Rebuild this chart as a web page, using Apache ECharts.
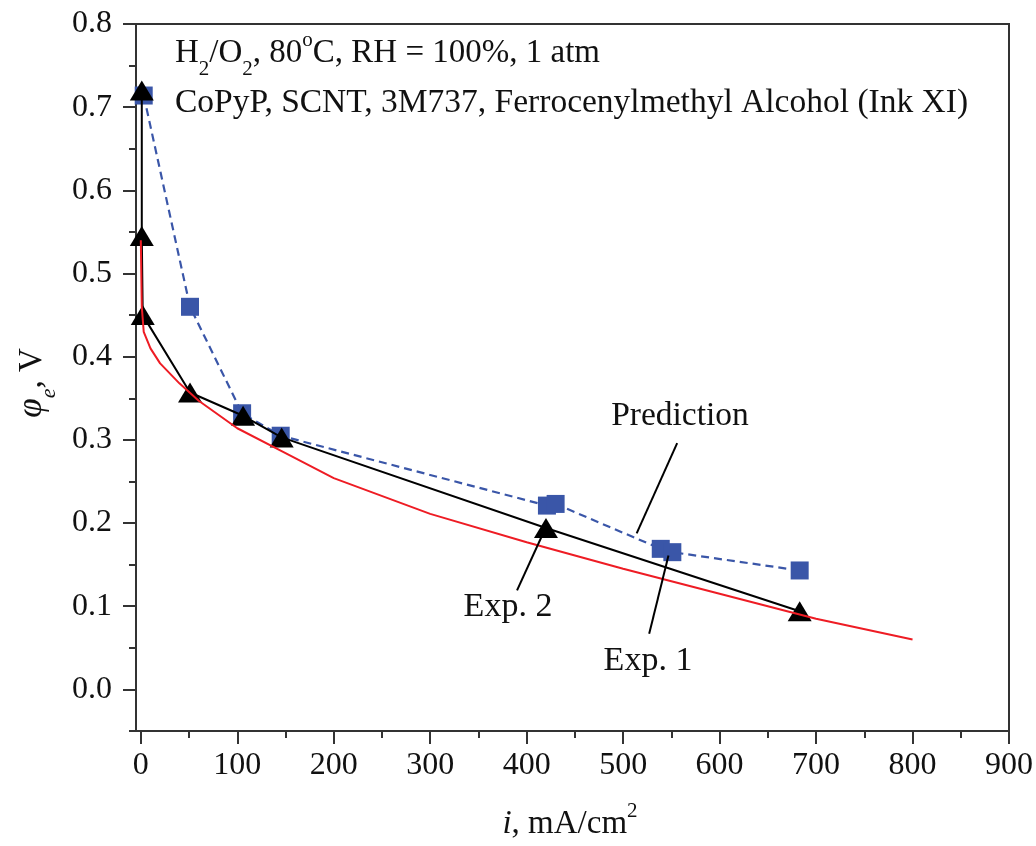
<!DOCTYPE html>
<html>
<head>
<meta charset="utf-8">
<script src="https://cdn.jsdelivr.net/npm/echarts@6/dist/echarts.min.js"></script>
<style>
html,body{margin:0;padding:0;background:#fff;}
#chart{width:1036px;height:846px;}
</style>
</head>
<body>
<div id="chart"></div>
<script>
// ---- data ----
const xMajorTicks = [0,100,200,300,400,500,600,700,800,900];
const xMinorTicks = [50,150,250,350,450,550,650,750,850];
const yMajorTicks = [0,0.1,0.2,0.3,0.4,0.5,0.6,0.7,0.8];
const yMajorLabels = ['0.0','0.1','0.2','0.3','0.4','0.5','0.6','0.7','0.8'];
const yMinorTicks = [-0.05,0.05,0.15,0.25,0.35,0.45,0.55,0.65,0.75];

// Prediction (red line)
const predI = [0,1,3,10,20,40,60,100,150,200,300,400,500,600,700,800];
const predV = [0.54,0.46,0.43,0.41,0.392,0.368,0.347,0.314,0.284,0.254,0.211,0.177,0.145,0.115,0.085,0.06];
// Exp. 2 (black triangles)
const exp2I = [1,1,2,51,106,146,420,683];
const exp2V = [0.72,0.545,0.45,0.357,0.329,0.303,0.194,0.094];
// Exp. 1 (blue squares, dashed)
const exp1I = [3,51,105,145,421,430,539,551,683];
const exp1V = [0.714,0.46,0.332,0.305,0.221,0.223,0.169,0.165,0.143];

// leader lines for annotations, in data coordinates [i, V] -> [i, V]
const leaderFrom = [[556,0.296],[390,0.119],[527,0.067]];
const leaderTo   = [[514,0.1875],[416,0.185],[547,0.161]];

const FONT = "'Liberation Serif','Times New Roman',serif";
const zip = (a,b) => a.map((v,k)=>[v,b[k]]);

const chart = echarts.init(document.getElementById('chart'));

const axisLineStyle = {color:'#333', width:2};

const option = {
  backgroundColor:'#fff',
  animation:false,
  grid:{left:136, right:25, top:24, bottom:115, show:true, borderColor:'#333', borderWidth:2, backgroundColor:'transparent'},
  xAxis:[
    {type:'value', min:-5, max:900, position:'bottom',
     axisLine:{show:true, onZero:false, lineStyle:axisLineStyle},
     axisTick:{show:true, length:13, customValues:xMajorTicks, lineStyle:{color:'#333', width:2}},
     axisLabel:{show:true, customValues:xMajorTicks, margin:19, fontFamily:FONT, fontSize:32, color:'#111'},
     splitLine:{show:false}},
    {type:'value', min:-5, max:900, position:'bottom',
     axisLine:{show:false, onZero:false},
     axisTick:{show:true, length:7, customValues:xMinorTicks, lineStyle:{color:'#333', width:2}},
     axisLabel:{show:false}, splitLine:{show:false}}
  ],
  yAxis:[
    {type:'value', min:-0.05, max:0.8, position:'left',
     axisLine:{show:true, onZero:false, lineStyle:axisLineStyle},
     axisTick:{show:true, length:13, customValues:yMajorTicks, lineStyle:{color:'#333', width:2}},
     axisLabel:{show:true, customValues:yMajorTicks, margin:24, fontFamily:FONT, fontSize:32, color:'#111',
       formatter:(v)=>{ const k = yMajorTicks.findIndex(t=>Math.abs(t-v)<1e-9); return k>=0?yMajorLabels[k]:''; }},
     splitLine:{show:false}},
    {type:'value', min:-0.05, max:0.8, position:'left',
     axisLine:{show:false, onZero:false},
     axisTick:{show:true, length:7, customValues:yMinorTicks, lineStyle:{color:'#333', width:2}},
     axisLabel:{show:false}, splitLine:{show:false}}
  ],
  series:[
    {name:'Exp. 1', type:'line', data:zip(exp1I,exp1V), xAxisIndex:0, yAxisIndex:0,
     symbol:'rect', symbolSize:18, showAllSymbol:true,
     itemStyle:{color:'#3a56a8'}, lineStyle:{color:'#3a56a8', width:2.2, type:[8,5]}, z:2},
    {name:'Exp. 2', type:'line', data:zip(exp2I,exp2V), xAxisIndex:0, yAxisIndex:0,
     symbol:'triangle', symbolSize:[24,20], showAllSymbol:true,
     itemStyle:{color:'#000'}, lineStyle:{color:'#000', width:2}, z:3},
    {name:'Prediction', type:'line', data:zip(predI,predV), xAxisIndex:0, yAxisIndex:0,
     symbol:'none', lineStyle:{color:'#ee1c24', width:2}, z:4},
    {name:'leaders', type:'line', data:[], xAxisIndex:0, yAxisIndex:0, z:5,
     markLine:{silent:true, symbol:['none','none'], label:{show:false},
       lineStyle:{color:'#000', width:2, type:'solid'},
       data: leaderFrom.map((p,k)=>[{coord:p},{coord:leaderTo[k]}])}}
  ],
  graphic:[
    {type:'text', left:175, top:30, style:{
      text:'{n|H}{s|2}{n|/O}{s|2}{n|, 80}{p|o}{n|C, RH = 100%, 1 atm}',
      rich:{n:{fontFamily:FONT, fontSize:33, fill:'#111', lineHeight:38, verticalAlign:'bottom'},
            s:{fontFamily:FONT, fontSize:21, fill:'#111', lineHeight:38, verticalAlign:'bottom', padding:[0,0,-10,0]},
            p:{fontFamily:FONT, fontSize:21, fill:'#111', lineHeight:38, verticalAlign:'top', padding:[-2,0,0,0]}}}},
    {type:'text', x:175, y:103, style:{
      text:'CoPyP, SCNT, 3M737, Ferrocenylmethyl Alcohol (Ink XI)',
      fontFamily:FONT, fontSize:33.5, fill:'#111', verticalAlign:'middle'}},
    {type:'text', x:680, y:416, style:{text:'Prediction', fontFamily:FONT, fontSize:33.5, fill:'#111', align:'center', verticalAlign:'middle'}},
    {type:'text', x:508, y:607, style:{text:'Exp. 2', fontFamily:FONT, fontSize:34, fill:'#111', align:'center', verticalAlign:'middle'}},
    {type:'text', x:648, y:661, style:{text:'Exp. 1', fontFamily:FONT, fontSize:34, fill:'#111', align:'center', verticalAlign:'middle'}},
    {type:'text', x:570, y:824, style:{
      text:'{i|i}{n|, mA/cm}{p|2}',
      align:'center', verticalAlign:'middle',
      rich:{i:{fontFamily:FONT, fontStyle:'italic', fontSize:33, fill:'#111', lineHeight:38},
            n:{fontFamily:FONT, fontSize:33, fill:'#111', lineHeight:38},
            p:{fontFamily:FONT, fontSize:21, fill:'#111', lineHeight:38, verticalAlign:'top', padding:[-4,0,0,0]}}}},
    {type:'text', x:32, y:383, rotation:Math.PI/2, style:{
      text:'{f|φ}{e|e}{n|, V}',
      align:'center', verticalAlign:'middle',
      rich:{f:{fontFamily:FONT, fontStyle:'italic', fontSize:35, fill:'#111', lineHeight:40},
            e:{fontFamily:FONT, fontStyle:'italic', fontSize:22, fill:'#111', lineHeight:40, verticalAlign:'bottom', padding:[0,0,-8,0]},
            n:{fontFamily:FONT, fontSize:33, fill:'#111', lineHeight:40}}}}
  ]
};
chart.setOption(option);
</script>
</body>
</html>
